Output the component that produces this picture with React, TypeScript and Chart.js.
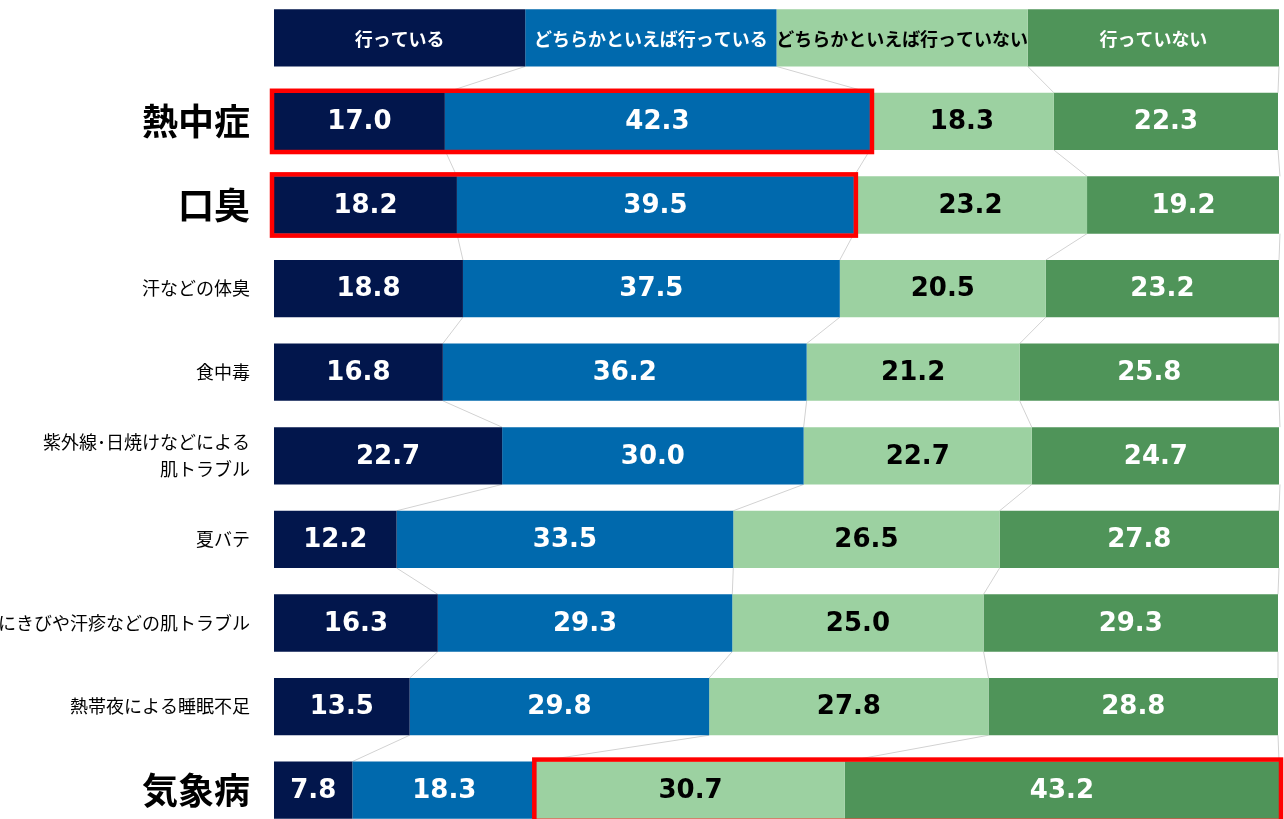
import React, { useEffect, useRef } from "react";
import { Chart, registerables } from "chart.js";

Chart.register(...registerables);

const SERIES = ["行っている", "どちらかといえば行っている", "どちらかといえば行っていない", "行っていない"];
const COLORS = ["#02164C", "#0069AD", "#9CD1A1", "#4F9459"];
const LABEL_COLORS = ["#ffffff", "#ffffff", "#000000", "#ffffff"];
const HEADER = [25, 25, 25, 25];

const CATEGORIES = [
  "熱中症",
  "口臭",
  "汗などの体臭",
  "食中毒",
  "紫外線･日焼けなどによる\n肌トラブル",
  "夏バテ",
  "にきびや汗疹などの肌トラブル",
  "熱帯夜による睡眠不足",
  "気象病",
];
const EMPHASIZED = ["熱中症", "口臭", "気象病"];

const DOING = [17.0, 18.2, 18.8, 16.8, 22.7, 12.2, 16.3, 13.5, 7.8];
const RATHER_DOING = [42.3, 39.5, 37.5, 36.2, 30.0, 33.5, 29.3, 29.8, 18.3];
const RATHER_NOT = [18.3, 23.2, 20.5, 21.2, 22.7, 26.5, 25.0, 27.8, 30.7];
const NOT_DOING = [22.3, 19.2, 23.2, 25.8, 24.7, 27.8, 29.3, 28.8, 43.2];
const VALUES = [DOING, RATHER_DOING, RATHER_NOT, NOT_DOING];

// highlighted groups: category, first series index, last series index
const HIGHLIGHTS = [
  { category: "熱中症", from: 0, to: 1 },
  { category: "口臭", from: 0, to: 1 },
  { category: "気象病", from: 2, to: 3 },
];

const FONT = "'Noto Sans CJK JP', 'Noto Sans', sans-serif";

export default function App() {
  const ref = useRef<HTMLCanvasElement | null>(null);

  useEffect(() => {
    if (!ref.current) return;
    const labels: (string | string[])[] = ["", ...CATEGORIES.map((c) => (c.includes("\n") ? c.split("\n") : c))];
    const rawLabels = ["", ...CATEGORIES];

    const seriesLines = {
      id: "seriesLines",
      beforeDatasetsDraw(chart: any) {
        const ctx = chart.ctx;
        const metas = SERIES.map((_, i) => chart.getDatasetMeta(i));
        const n = labels.length;
        ctx.save();
        ctx.strokeStyle = "#d2d2d2";
        ctx.lineWidth = 1;
        for (let r = 0; r < n - 1; r++) {
          for (let s = 0; s < SERIES.length; s++) {
            const a = metas[s].data[r];
            const b = metas[s].data[r + 1];
            if (!a || !b) continue;
            ctx.beginPath();
            ctx.moveTo(a.x, a.y + a.height / 2);
            ctx.lineTo(b.x, b.y - b.height / 2);
            ctx.stroke();
          }
        }
        ctx.restore();
      },
    };

    const valueLabels = {
      id: "valueLabels",
      afterDatasetsDraw(chart: any) {
        const ctx = chart.ctx;
        ctx.save();
        ctx.textAlign = "center";
        ctx.textBaseline = "middle";
        SERIES.forEach((name, s) => {
          const meta = chart.getDatasetMeta(s);
          meta.data.forEach((el: any, i: number) => {
            const cx = (el.x + el.base) / 2;
            ctx.fillStyle = LABEL_COLORS[s];
            if (i === 0) {
              ctx.font = `bold 18px ${FONT}`;
              ctx.fillText(name, cx, el.y + 1);
            } else {
              ctx.font = `bold 26px 'DejaVu Sans', sans-serif`;
              ctx.fillText(VALUES[s][i - 1].toFixed(1), cx, el.y + 1);
            }
          });
        });
        ctx.strokeStyle = "#FF0000";
        ctx.lineWidth = 4.5;
        HIGHLIGHTS.forEach((h) => {
          const idx = rawLabels.indexOf(h.category);
          const first = chart.getDatasetMeta(h.from).data[idx];
          const last = chart.getDatasetMeta(h.to).data[idx];
          if (!first || !last) return;
          const left = Math.min(first.base, first.x);
          const right = Math.max(last.x, last.base);
          const top = first.y - first.height / 2;
          const bottom = first.y + first.height / 2;
          ctx.strokeRect(left - 2, top - 2, right - left + 4, bottom - top + 4);
        });
        ctx.restore();
      },
    };

    const chart = new Chart(ref.current, {
      type: "bar",
      data: {
        labels,
        datasets: SERIES.map((name, s) => ({
          label: name,
          data: [HEADER[s], ...VALUES[s]],
          backgroundColor: COLORS[s],
          borderWidth: 0,
          barPercentage: 0.685,
          categoryPercentage: 1,
        })),
      },
      options: {
        indexAxis: "y",
        responsive: false,
        animation: false,
        layout: { padding: { left: 0, right: 5, top: 0, bottom: 0 } },
        plugins: { legend: { display: false }, tooltip: { enabled: false } },
        scales: {
          x: { stacked: true, min: 0, max: 100, display: false },
          y: {
            stacked: true,
            grid: { display: false, drawTicks: false },
            border: { display: false },
            afterFit: (scale: any) => {
              scale.width = 274;
              scale.paddingTop = 0;
              scale.paddingBottom = 0;
            },
            ticks: {
              padding: 24,
              color: "#000000",
              autoSkip: false,
              font: (c: any) => {
                const lab = rawLabels[c.index];
                return EMPHASIZED.includes(lab)
                  ? { family: FONT, size: 36, weight: "bold", lineHeight: 1.2 }
                  : { family: FONT, size: 18, weight: "normal", lineHeight: 1.5 };
              },
            },
          },
        },
      },
      plugins: [seriesLines, valueLabels],
    } as any);
    return () => chart.destroy();
  }, []);

  return (
    <div style={{ position: "fixed", left: 0, top: 0, width: 1284, height: 819, overflow: "hidden", background: "#fff" }}>
      <canvas ref={ref} width={1284} height={836} style={{ position: "absolute", left: 0, top: -4, display: "block" }} />
    </div>
  );
}
